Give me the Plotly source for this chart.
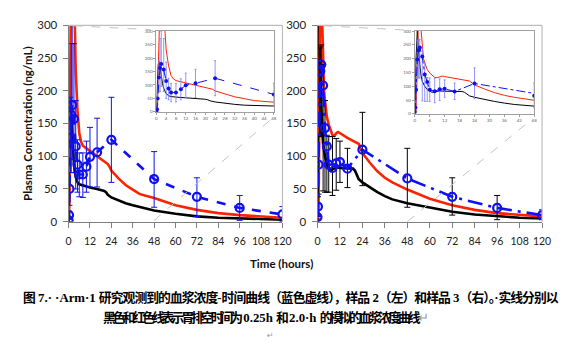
import plotly.graph_objects as go

W, H = 567, 347

# ---------------- data ----------------
obs_t = [0, 0.25, 0.5, 1, 1.5, 2, 3, 4, 5, 6, 8, 10, 12, 16, 24, 48, 72, 96, 120]

# Sample 2 (left)
s2_obs = [2, 10, 50, 128, 163, 178, 157, 115, 87, 72, 72, 84, 99, 106, 125, 65, 38, 21, 11]
s2_hi = [7, 16, 75, 190, 272, 300, 272, 185, 125, 105, 105, 123, 144, 158, 190, 107, 67, 40, 23]
s2_lo = [0, 4, 25, 75, 75, 95, 75, 50, 45, 38, 37, 45, 53, 53, 60, 22, 8, 2, 0]

s2_black_t = [0, 0.25, 0.5, 0.75, 1, 1.5, 2, 2.5, 3, 4, 5, 6, 8, 10, 12, 16, 18, 20, 21, 22, 24, 28, 32, 36, 40, 48, 60, 72, 84, 96, 108, 120]
s2_black_v = [0, 40, 120, 175, 188, 165, 130, 105, 88, 68, 60, 57, 55, 54, 52, 50, 49, 47, 45, 41, 37, 32, 28, 25, 22, 17, 12, 8, 6, 5, 4, 3]
s2_red_t = [0, 0.5, 0.75, 1, 1.5, 2, 2.5, 3, 3.5, 4, 5, 6, 7, 8, 10, 12, 16, 20, 22, 23, 24, 28, 32, 36, 40, 48, 60, 72, 84, 96, 108, 120]
s2_red_v = [0, 30, 150, 300, 420, 450, 420, 370, 300, 230, 170, 135, 122, 116, 112, 108, 100, 92, 88, 84, 78, 66, 56, 49, 42, 36, 25, 18, 13, 10, 8, 6]

# Sample 3 (right)
s3_obs = [7, 23, 87, 197, 230, 240, 208, 143, 115, 87, 82, 89, 91, 81, 110, 66, 38, 21, 10]
s3_hi = [10, 38, 130, 265, 267, 270, 240, 185, 132, 130, 130, 127, 123, 112, 167, 112, 67, 40, 18]
s3_lo = [4, 8, 42, 130, 130, 130, 47, 45, 45, 45, 40, 48, 60, 52, 55, 22, 10, 3, 3]

s3_black_t = [0, 0.25, 0.5, 0.75, 1, 1.25, 1.5, 2, 2.5, 3, 4, 5, 6, 7, 8, 10, 12, 16, 18, 19, 20, 21, 22, 24, 28, 32, 36, 40, 48, 60, 72, 84, 96, 108, 120]
s3_black_v = [0, 60, 200, 290, 300, 270, 230, 180, 140, 118, 100, 88, 82, 78, 80, 83, 82, 82, 82, 81, 78, 72, 65, 60, 52, 45, 39, 34, 28, 21, 15, 11, 8, 6, 5]
s3_red_t = [0, 0.5, 0.75, 1, 1.5, 2, 2.5, 3, 3.5, 4, 5, 6, 7, 8, 9, 10, 11, 12, 16, 20, 22, 23, 24, 28, 32, 36, 40, 48, 60, 72, 84, 96, 108, 120]
s3_red_v = [0, 10, 80, 200, 350, 360, 300, 235, 200, 185, 160, 148, 138, 132, 131, 135, 137, 135, 128, 122, 119, 112, 105, 90, 77, 67, 60, 49, 35, 25, 18, 13, 10, 8]

main_xticks = [0, 12, 24, 36, 48, 60, 72, 84, 96, 108, 120]
yticks = [0, 50, 100, 150, 200, 250, 300]
inset_left_xticks = [0, 4, 8, 12, 16, 20, 24, 28, 32, 36, 40, 44, 48]
inset_right_xticks = [0, 6, 12, 18, 24, 30, 36, 42, 48]

y_title = "Plasma Concentration (ng/mL)"
x_title = "Time (hours)"
caption1 = "图 7.· ·Arm·1 研究观测到的血浆浓度-时间曲线（蓝色虚线），样品 2（左）和样品 3（右）。·实线分别以"
caption2 = "黑色和红色线表示胃排空时间为 0.25h 和 2.0·h 的模拟的血浆浓度曲线"

# ---------------- styling ----------------
BLUE = "#1010f0"
LBLUE = "#7a7aff"
RED = "#ff2200"
BLACK = "#000000"
FONT = "Lato"


def px_x(p):
    return p / W


def px_y(p):
    return 1 - p / H


def condense(text, sp):
    """Wrap runs of CJK / full-width characters in a letter-spacing span."""
    out, run, cur = [], "", None
    for ch in text:
        kind = ord(ch) > 0x2000
        if cur is None or kind == cur:
            run += ch
        else:
            out.append((cur, run))
            run = ch
        cur = kind
    if run:
        out.append((cur, run))
    html = ""
    for k, r in out:
        html += f"<span style='letter-spacing:{sp}px'>{r}</span>" if k else r
    return html


fig = go.Figure()


def add_panel(xa, ya, obs, hi, lo, bt, bv, rt, rv, dash, errcolor, inset):
    lw_sim = 1 if inset else 2.6
    fig.add_trace(go.Scatter(x=bt, y=bv, mode="lines", xaxis=xa, yaxis=ya,
                             line=dict(color=BLACK, width=lw_sim), showlegend=False, hoverinfo="skip"))
    fig.add_trace(go.Scatter(x=rt, y=rv, mode="lines", xaxis=xa, yaxis=ya,
                             line=dict(color=RED, width=lw_sim), showlegend=False, hoverinfo="skip"))
    plus = [h - v for h, v in zip(hi, obs)]
    minus = [v - l for v, l in zip(obs, lo)]
    if inset:
        marker = dict(symbol="circle", size=4, color=BLUE)
        line = dict(color=BLUE, width=1, dash=dash)
        err = dict(type="data", array=plus, arrayminus=minus, color=LBLUE, thickness=0.8, width=1)
    else:
        marker = dict(symbol="circle-open", size=8, color=BLUE, line=dict(width=2.2, color=BLUE))
        line = dict(color=BLUE, width=2.6, dash=dash)
        err = dict(type="data", array=plus, arrayminus=minus, color=errcolor, thickness=1, width=3)
    fig.add_trace(go.Scatter(x=obs_t, y=obs, mode="lines+markers", xaxis=xa, yaxis=ya,
                             line=line, marker=marker, error_y=err, showlegend=False,
                             hoverinfo="skip", cliponaxis=True))


add_panel("x", "y", s2_obs, s2_hi, s2_lo, s2_black_t, s2_black_v, s2_red_t, s2_red_v,
          "dash", BLUE, False)
add_panel("x2", "y2", s3_obs, s3_hi, s3_lo, s3_black_t, s3_black_v, s3_red_t, s3_red_v,
          "longdashdot", BLACK, False)
add_panel("x3", "y3", s2_obs, s2_hi, s2_lo, s2_black_t, s2_black_v, s2_red_t, s2_red_v,
          "dash", BLUE, True)
add_panel("x4", "y4", s3_obs, s3_hi, s3_lo, s3_black_t, s3_black_v, s3_red_t, s3_red_v,
          "dashdot", BLUE, True)

ydom = [px_y(223), px_y(19)]
main_ax = dict(range=[0, 120], tickvals=main_xticks, showgrid=False, zeroline=False,
               showline=True, linecolor="#7f7f7f", linewidth=1, ticks="outside",
               ticklen=5, tickcolor="#7f7f7f", ticklabelstandoff=5,
               tickfont=dict(family=FONT, size=10.5, color="#222"))
main_ay = dict(range=[0, 300], tickvals=yticks, showgrid=False, zeroline=False,
               showline=True, linecolor="#7f7f7f", linewidth=1, ticks="outside",
               ticklen=5, tickcolor="#7f7f7f", ticklabelstandoff=3,
               tickfont=dict(family=FONT, size=11.5, color="#222"))
in_ax = dict(range=[0, 48], showgrid=False, zeroline=False, showline=True, mirror=True,
             linecolor="#a0a0a0", linewidth=0.8, ticks="outside", ticklen=2,
             tickcolor="#a0a0a0", tickfont=dict(family=FONT, size=4.5, color="#666"))
in_ay = dict(range=[0, 300], tickvals=yticks, showgrid=False, zeroline=False, showline=True,
             mirror=True, linecolor="#a0a0a0", linewidth=0.8, ticks="outside", ticklen=2,
             tickcolor="#a0a0a0", tickfont=dict(family=FONT, size=4.5, color="#666"))

fig.update_layout(
    width=W, height=H, margin=dict(l=0, r=0, t=0, b=0),
    paper_bgcolor="white", plot_bgcolor="white", showlegend=False,
    xaxis=dict(main_ax, domain=[px_x(67), px_x(285.5)], anchor="y"),
    yaxis=dict(main_ay, domain=ydom, anchor="x"),
    xaxis2=dict(main_ax, domain=[px_x(321.3), px_x(550.7)], anchor="y2"),
    yaxis2=dict(main_ay, domain=ydom, anchor="x2"),
    xaxis3=dict(in_ax, tickvals=inset_left_xticks, domain=[px_x(156.7), px_x(276.7)], anchor="y3"),
    yaxis3=dict(in_ay, domain=[px_y(109), px_y(25)], anchor="x3"),
    xaxis4=dict(in_ax, tickvals=inset_right_xticks, domain=[px_x(420.7), px_x(542.7)], anchor="y4"),
    yaxis4=dict(in_ay, domain=[px_y(111), px_y(25)], anchor="x4"),
)

shapes = []
# light frame on top/right of main plots
for (xl, xr) in [(67, 285.5), (321.3, 550.7)]:
    shapes.append(dict(type="line", xref="paper", yref="paper", x0=px_x(xl), x1=px_x(xr),
                       y0=px_y(19), y1=px_y(19), line=dict(color="#bdbdbd", width=1.2)))
    shapes.append(dict(type="line", xref="paper", yref="paper", x0=px_x(xr), x1=px_x(xr),
                       y0=px_y(19), y1=px_y(223), line=dict(color="#bdbdbd", width=1.2)))
# zoom connector lines
for (a, b) in [((72, 19.5), (151, 23.5)), ((154, 222), (277, 114)),
               ((327, 19.5), (413, 24)), ((413, 223), (541, 116))]:
    shapes.append(dict(type="line", xref="paper", yref="paper", x0=px_x(a[0]), y0=px_y(a[1]),
                       x1=px_x(b[0]), y1=px_y(b[1]), line=dict(color="#c4c4c4", width=1, dash="dash")))
fig.update_layout(shapes=shapes)

ann = []
ann.append(dict(text="<b>" + y_title + "</b>", x=px_x(25), y=px_y(121), xref="paper", yref="paper",
                textangle=-90, showarrow=False, font=dict(family=FONT, size=11.5, color="#111"),
                xanchor="center", yanchor="middle"))
ann.append(dict(text="<b>" + x_title + "</b>", x=px_x(285), y=px_y(267), xref="paper", yref="paper",
                showarrow=False, font=dict(family=FONT, size=11.5, color="#111"),
                xanchor="center", yanchor="middle"))
cap_font = dict(family="Liberation Serif, Noto Sans CJK SC", size=12.8, color="#000")
ann.append(dict(text="<b>" + condense(caption1, -0.95) + "</b>", x=px_x(18), y=px_y(302),
                xref="paper", yref="paper", showarrow=False, font=cap_font,
                xanchor="left", yanchor="middle"))
ann.append(dict(text="<b>" + condense(caption2, -3.0) + "</b>"
                     "<span style='color:#999'>↵</span>", x=px_x(100), y=px_y(323),
                xref="paper", yref="paper", showarrow=False, font=cap_font,
                xanchor="left", yanchor="middle"))
ann.append(dict(text="↵", x=px_x(273), y=px_y(341), xref="paper", yref="paper", showarrow=False,
                font=dict(family="DejaVu Sans", size=8, color="#999"), xanchor="center", yanchor="middle"))
fig.update_layout(annotations=ann)

fig.write_html("out.html")
